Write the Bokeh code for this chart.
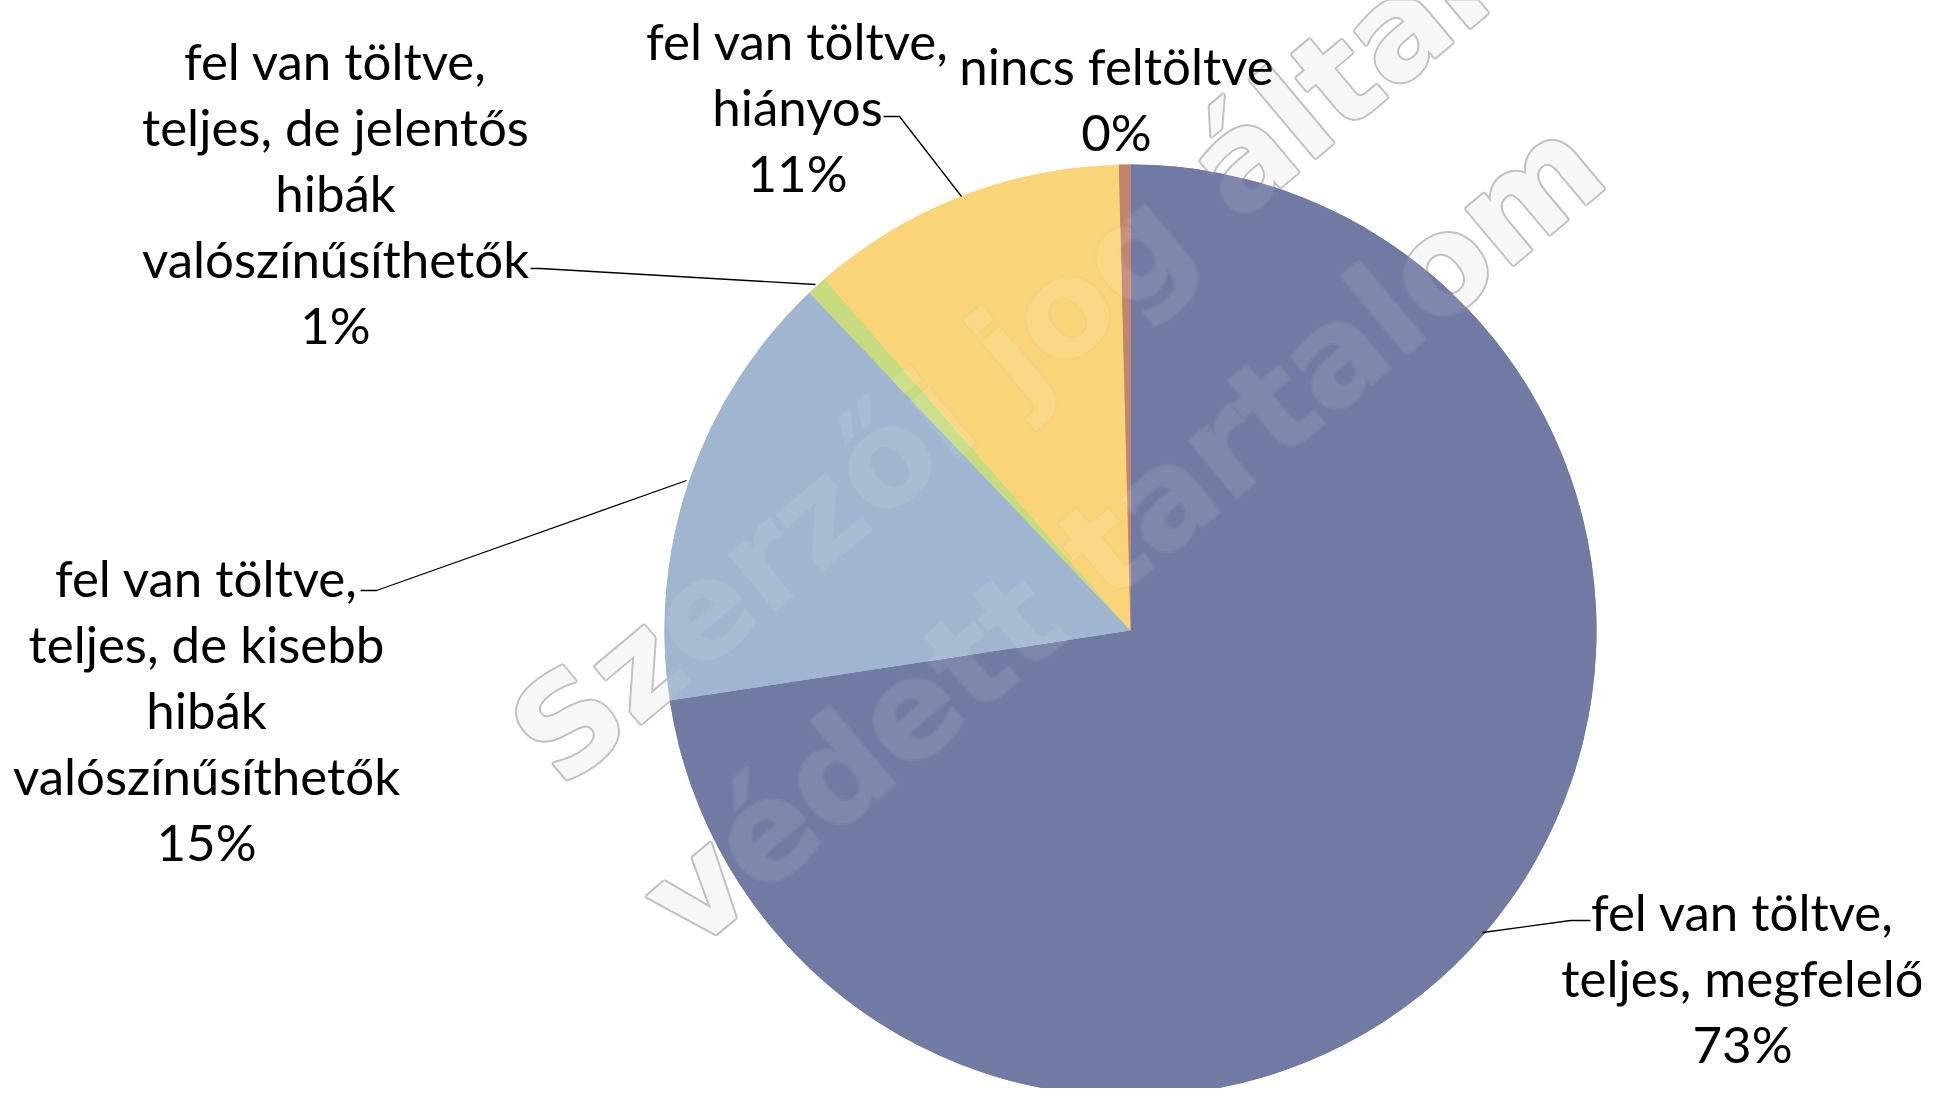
import math
from bokeh.plotting import figure
from bokeh.models import Range1d, ColumnDataSource
from bokeh.core.properties import value
from bokeh.embed import file_html
from bokeh.resources import INLINE

# ---- data ----
categories = [
    "fel van töltve,\nteljes, megfelelő",
    "fel van töltve,\nteljes, de kisebb\nhibák\nvalószínűsíthetők",
    "fel van töltve,\nteljes, de jelentős\nhibák\nvalószínűsíthetők",
    "fel van töltve,\nhiányos",
    "nincs feltöltve",
]
shares = [72.6, 15.3, 0.7, 11.0, 0.4]
pct_labels = ["73%", "15%", "1%", "11%", "0%"]
colors = ["#717AA3", "#9EB5CF", "#C6DB7E", "#F8D478", "#C2856E"]
watermark_lines = ["Szerzői jog által", "védett tartalom"]

# ---- layout (reference pixel coords, y downward) ----
W, H = 1921, 1088
def Y(y):
    return 1104 - y

cx, cy, R = 1138, 638, 466
label_pos = [(1750, 985), (214, 717), (343, 200), (805, 114), (1124, 106)]
leaders = [
    [(1598, 928), (1578, 928), (1490, 940)],
    [(368, 598), (384, 598), (694, 488)],
    [(538, 276), (548, 276), (823, 292)],
    [(891, 124), (907, 124), (969, 204)],
    None,
]
wm_pos = [(1007, 370), (1130, 540)]
wm_angle = math.radians(40)

p = figure(width=W, height=H, x_range=Range1d(8, 8 + W), y_range=Range1d(8, 8 + H),
           output_backend="svg", toolbar_location=None, min_border=0)
p.axis.visible = False
p.grid.visible = False
p.outline_line_color = None
p.background_fill_color = "white"
p.border_fill_color = "white"

total = sum(shares)
starts, ends = [], []
acc = 0.0
for s in shares:
    starts.append(math.pi / 2 - acc / total * 2 * math.pi)
    acc += s
    ends.append(math.pi / 2 - acc / total * 2 * math.pi)

src = ColumnDataSource(dict(x=[cx] * len(shares), y=[Y(cy)] * len(shares),
                            start=starts, end=ends, color=colors))

# pie
p.wedge(x="x", y="y", radius=R, start_angle="start", end_angle="end",
        direction="clock", fill_color="color", line_color=None, source=src)

# watermark: outlined text
wm_src = ColumnDataSource(dict(x=[q[0] for q in wm_pos], y=[Y(q[1]) for q in wm_pos],
                               t=watermark_lines))
WM_SIZE = "135px"
for k in range(8):
    a = k * math.pi / 4
    p.text(x="x", y="y", text="t", source=wm_src, angle=wm_angle,
           x_offset=2.0 * math.cos(a), y_offset=2.0 * math.sin(a),
           text_font=value("DejaVu Sans"), text_font_style="bold",
           text_font_size=WM_SIZE, text_color="#c2c2c2",
           text_align="center", text_baseline="middle")
p.text(x="x", y="y", text="t", source=wm_src, angle=wm_angle,
       text_font=value("DejaVu Sans"), text_font_style="bold",
       text_font_size=WM_SIZE, text_color="#f7f7f7",
       text_align="center", text_baseline="middle")

# pie again, nearly opaque, so the watermark shows only faintly on it
p.wedge(x="x", y="y", radius=R, start_angle="start", end_angle="end",
        direction="clock", fill_color="color", fill_alpha=0.9, line_color=None,
        source=src)

# leader lines
for ld in leaders:
    if ld:
        p.line([q[0] for q in ld], [Y(q[1]) for q in ld], line_color="black", line_width=1.3)

# labels
lab_src = ColumnDataSource(dict(
    x=[q[0] for q in label_pos], y=[Y(q[1]) for q in label_pos],
    t=[c + "\n" + pc for c, pc in zip(categories, pct_labels)]))
p.text(x="x", y="y", text="t", source=lab_src, text_font=value("Lato"),
       text_font_size="51px", text_color="black", text_align="center",
       text_baseline="middle", text_line_height=1.08)

open("out.html", "w").write(file_html(p, INLINE))
